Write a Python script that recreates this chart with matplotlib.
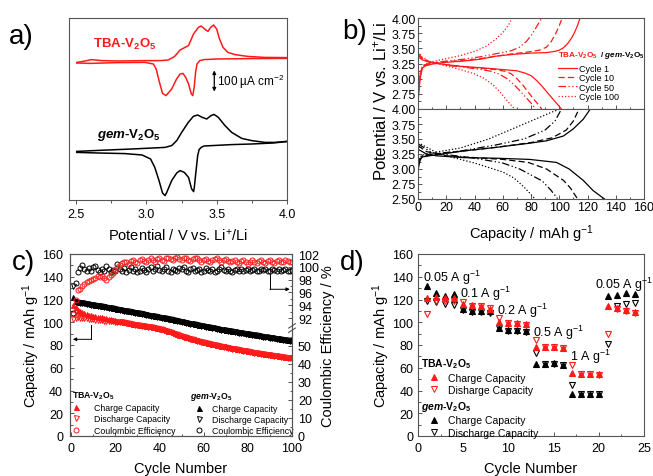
import numpy as np
import matplotlib
matplotlib.use("Agg")
import matplotlib.pyplot as plt
from matplotlib.lines import Line2D
from matplotlib.ticker import MultipleLocator, FixedLocator

plt.rcParams['font.family'] = ['Liberation Sans', 'DejaVu Sans']
plt.rcParams['mathtext.fontset'] = 'custom'
plt.rcParams['mathtext.rm'] = 'Liberation Sans'
plt.rcParams['mathtext.it'] = 'Liberation Sans:italic:bold'
plt.rcParams['mathtext.bf'] = 'Liberation Sans:bold'
plt.rcParams['mathtext.default'] = 'regular'

RED = '#ff1a1a'
SPINE = '#555555'

# ---------------- panel a : CV data (E / V, I / uA cm-2 relative to own baseline)
tba_ox_E = [2.505, 2.55, 2.61, 2.68, 2.80, 3.00, 3.10, 3.155, 3.20, 3.24, 3.275, 3.30, 3.335, 3.37, 3.39,
            3.414, 3.438, 3.457, 3.478, 3.50, 3.52, 3.545, 3.58, 3.63, 3.72, 3.84, 4.0]
tba_ox_I = [-7, -2, 7, 2, 0, 2, 2, 5, 22, 55, 68, 77, 135, 168, 175,
            160, 148, 168, 180, 160, 110, 68, 43, 32, 23, 18, 17]
tba_red_E = [4.0, 3.75, 3.5, 3.41, 3.38, 3.36, 3.35, 3.34, 3.33, 3.32, 3.30, 3.28, 3.26, 3.24, 3.215,
             3.18, 3.14, 3.115, 3.09, 3.07, 3.05, 2.99, 2.8, 2.6, 2.505]
tba_red_I = [13, 12, 10, 7, 2, -15, -57, -132, -173, -165, -115, -82, -62, -65, -90,
             -140, -173, -162, -98, -40, -15, -7, -8, -12, -10]
gem_ox_E = [2.505, 2.658, 2.896, 3.133, 3.180, 3.216, 3.251, 3.298, 3.334, 3.365, 3.398, 3.429, 3.460,
            3.481, 3.512, 3.559, 3.607, 3.678, 3.749, 3.843, 3.914, 3.997]
gem_ox_I = [-12, -7, 0, 8, 17, 42, 83, 133, 163, 170, 158, 150, 167,
            173, 158, 117, 83, 53, 42, 33, 33, 38]
gem_red_E = [3.997, 3.90, 3.749, 3.607, 3.41, 3.39, 3.375, 3.365, 3.352, 3.341, 3.336, 3.322, 3.30, 3.27,
             3.24, 3.216, 3.18, 3.145, 3.133, 3.115, 3.09, 3.06, 3.03, 2.97, 2.85, 2.66, 2.505]
gem_red_I = [37, 30, 25, 22, 15, 8, -3, -33, -117, -192, -213, -200, -142, -117,
             -108, -120, -158, -217, -233, -220, -158, -92, -50, -30, -23, -20, -17]
TBA_OFFSET = 695
GEM_OFFSET = 255

# ---------------- panel b : charge/discharge profiles (capacity mAh/g, V)
cycle_names = ['Cycle 1', 'Cycle 10', 'Cycle 50', 'Cycle 100']
styles = ['-', (0, (5, 2.5)), (0, (6, 2, 1, 2, 1, 2)), (0, (1, 1.6))]

tba_chg_cap = [
    [0, 0.5, 1.5, 3, 5, 10, 20, 32, 44, 55, 67, 79, 91, 97, 100, 103, 106, 109, 111, 113, 114.7],
    [0, 0.5, 1.5, 3, 5, 10, 20, 32, 44, 55, 67, 78, 86, 91, 94, 97, 100, 102],
    [0, 0.5, 1.5, 3, 5, 10, 20, 32, 44, 55, 66, 72, 77, 81, 84, 87.6],
    [0, 0.5, 1.5, 3, 5, 10, 20, 30, 40, 48, 55, 60, 64, 66.5],
]
tba_chg_V = [
    [2.55, 2.75, 3.0, 3.17, 3.21, 3.24, 3.27, 3.29, 3.32, 3.37, 3.40, 3.42, 3.43, 3.45, 3.47, 3.51, 3.58, 3.68, 3.77, 3.88, 4.0],
    [2.6, 2.8, 3.05, 3.18, 3.22, 3.25, 3.28, 3.30, 3.33, 3.37, 3.41, 3.44, 3.47, 3.52, 3.6, 3.72, 3.87, 4.0],
    [2.65, 2.85, 3.08, 3.19, 3.23, 3.26, 3.29, 3.32, 3.36, 3.41, 3.46, 3.52, 3.62, 3.74, 3.86, 4.0],
    [2.7, 2.9, 3.1, 3.2, 3.24, 3.28, 3.33, 3.38, 3.45, 3.53, 3.65, 3.76, 3.88, 4.0],
]
tba_dis_cap = [
    [0, 3, 8, 20, 32, 45, 55, 65, 70, 76, 80, 84, 88, 92, 96, 99, 101.5],
    [0, 3, 8, 20, 32, 45, 55, 62, 66, 70, 74, 78, 82, 85, 87.6],
    [0, 3, 8, 20, 32, 45, 52, 58, 63, 68, 73, 78, 81, 83],
    [0, 3, 8, 20, 30, 40, 47, 53, 58, 63, 66, 68.5],
]
tba_dis_V = [
    [3.36, 3.31, 3.27, 3.23, 3.2, 3.18, 3.16, 3.14, 3.13, 3.09, 3.05, 2.97, 2.87, 2.76, 2.65, 2.57, 2.5],
    [3.40, 3.33, 3.28, 3.23, 3.2, 3.17, 3.15, 3.12, 3.08, 3.0, 2.9, 2.78, 2.66, 2.58, 2.5],
    [3.42, 3.34, 3.28, 3.22, 3.19, 3.15, 3.12, 3.07, 3.0, 2.9, 2.78, 2.65, 2.57, 2.5],
    [3.45, 3.35, 3.29, 3.21, 3.15, 3.08, 3.0, 2.9, 2.78, 2.64, 2.56, 2.5],
]
gem_chg_cap = [
    [0, 0.5, 1.5, 3, 8, 20, 32, 55, 79, 91, 103, 110, 117, 122],
    [0, 0.5, 1.5, 3, 8, 20, 32, 55, 80, 95, 105, 110, 114],
    [0, 0.5, 1.5, 3, 10, 30, 55, 75, 90, 97, 101.6],
    [0, 0.5, 1.5, 3, 10, 30, 50, 70, 85, 95, 100.5],
]
gem_chg_V = [
    [2.95, 3.05, 3.15, 3.2, 3.22, 3.26, 3.3, 3.36, 3.43, 3.47, 3.55, 3.67, 3.83, 4.0],
    [2.97, 3.07, 3.16, 3.21, 3.23, 3.27, 3.3, 3.36, 3.44, 3.52, 3.65, 3.8, 4.0],
    [3.0, 3.1, 3.18, 3.22, 3.25, 3.3, 3.4, 3.5, 3.65, 3.8, 4.0],
    [3.05, 3.12, 3.2, 3.23, 3.27, 3.35, 3.5, 3.7, 3.85, 3.95, 4.0],
]
gem_dis_cap = [
    [0, 6, 13, 32, 55, 79, 98, 107, 117, 124, 132],
    [0, 6, 20, 40, 60, 78, 91, 103, 108, 113],
    [0, 10, 40, 60, 72, 80, 88, 94, 99],
    [0, 15, 40, 60, 68, 75, 79, 82.8],
]
gem_dis_V = [
    [3.33, 3.25, 3.22, 3.19, 3.18, 3.16, 3.11, 3.0, 2.81, 2.64, 2.5],
    [3.39, 3.29, 3.22, 3.19, 3.16, 3.11, 3.0, 2.81, 2.68, 2.5],
    [3.42, 3.27, 3.18, 3.1, 3.0, 2.9, 2.8, 2.65, 2.5],
    [3.44, 3.25, 3.1, 2.95, 2.85, 2.7, 2.6, 2.5],
]

# ---------------- panel c : cycling at constant current
cycle_c = np.arange(1, 101)
gem_chg_c = [122.5, 118.6, 118.2, 117.9, 117.6, 117.4, 116.9, 116.6, 116.3, 115.9,
             115.6, 115.4, 115.0, 114.6, 114.3, 113.9, 113.5, 113.2, 112.8, 112.4,
             112.0, 111.7, 111.4, 111.0, 110.6, 110.3, 109.9, 109.5, 109.2, 108.8,
             108.4, 108.1, 107.7, 107.3, 107.0, 106.6, 106.2, 105.9, 105.5, 105.1,
             104.7, 104.4, 104.0, 103.6, 103.2, 102.8, 102.4, 102.0, 101.6, 101.2,
             100.8, 100.4, 100.0, 99.6, 99.2, 98.8, 98.4, 98.0, 97.6, 97.2,
             96.8, 96.4, 96.1, 95.7, 95.4, 95.0, 94.7, 94.3, 94.0, 93.6,
             93.3, 92.9, 92.6, 92.3, 92.0, 91.6, 91.3, 91.0, 90.7, 90.4,
             90.0, 89.7, 89.4, 89.1, 88.8, 88.4, 88.1, 87.8, 87.5, 87.2,
             86.9, 86.6, 86.3, 86.0, 85.7, 85.4, 85.1, 84.8, 84.5, 84.2]
gem_dis_c = [131.5, 117.8, 117.6, 117.2, 117.0, 116.6, 116.3, 115.9, 115.6, 115.2,
             114.9, 114.7, 114.3, 113.9, 113.6, 113.2, 112.8, 112.5, 112.1, 111.7,
             111.3, 111.0, 110.7, 110.3, 109.9, 109.6, 109.2, 108.8, 108.5, 108.1,
             107.7, 107.4, 107.0, 106.6, 106.3, 105.9, 105.5, 105.2, 104.8, 104.4,
             104.0, 103.7, 103.3, 102.9, 102.5, 102.1, 101.7, 101.3, 100.9, 100.5,
             100.1, 99.7, 99.3, 98.9, 98.5, 98.1, 97.7, 97.3, 96.9, 96.5,
             96.1, 95.7, 95.4, 95.0, 94.7, 94.3, 94.0, 93.6, 93.3, 92.9,
             92.6, 92.2, 91.9, 91.6, 91.3, 90.9, 90.6, 90.3, 90.0, 89.7,
             89.3, 89.0, 88.7, 88.4, 88.1, 87.7, 87.4, 87.1, 86.8, 86.5,
             86.2, 85.9, 85.6, 85.3, 85.0, 84.7, 84.4, 84.1, 83.8, 83.5]
tba_chg_c = [115.0, 113.0, 111.2, 109.8, 108.6, 107.8, 107.2, 106.6, 106.1, 105.7,
             105.3, 104.9, 104.5, 104.2, 103.8, 103.4, 103.0, 102.7, 102.3, 101.9,
             101.5, 101.2, 100.8, 100.4, 100.0, 99.7, 99.3, 98.9, 98.6, 98.3,
             98.0, 97.7, 97.4, 97.1, 96.8, 96.5, 96.1, 95.7, 95.3, 94.9,
             94.4, 93.8, 93.2, 92.6, 92.0, 91.3, 90.6, 89.9, 89.2, 88.5,
             87.8, 87.2, 86.6, 86.0, 85.5, 85.0, 84.5, 84.0, 83.5, 83.0,
             82.5, 82.0, 81.6, 81.1, 80.7, 80.3, 79.9, 79.5, 79.1, 78.7,
             78.3, 77.9, 77.5, 77.2, 76.8, 76.4, 76.1, 75.7, 75.4, 75.0,
             74.7, 74.3, 74.0, 73.7, 73.3, 73.0, 72.7, 72.4, 72.1, 71.8,
             71.5, 71.2, 70.9, 70.6, 70.3, 70.1, 69.8, 69.6, 69.3, 69.1]
tba_dis_c = [103.0, 104.0, 104.2, 104.0, 103.8, 103.5, 103.3, 103.0, 102.8, 102.6,
             102.3, 102.1, 101.9, 101.7, 101.5, 101.3, 101.1, 100.9, 100.7, 100.5,
             100.6, 100.4, 100.1, 99.8, 99.4, 99.1, 98.7, 98.3, 98.0, 97.7,
             97.4, 97.1, 96.8, 96.5, 96.2, 95.9, 95.5, 95.1, 94.7, 94.3,
             93.8, 93.2, 92.6, 92.0, 91.4, 90.7, 90.0, 89.3, 88.6, 87.9,
             87.2, 86.6, 86.0, 85.4, 84.9, 84.4, 83.9, 83.4, 82.9, 82.4,
             81.9, 81.4, 81.0, 80.5, 80.1, 79.7, 79.3, 78.9, 78.5, 78.1,
             77.7, 77.3, 76.9, 76.6, 76.2, 75.8, 75.5, 75.1, 74.8, 74.4,
             74.1, 73.7, 73.4, 73.1, 72.7, 72.4, 72.1, 71.8, 71.5, 71.2,
             70.9, 70.6, 70.3, 70.0, 69.7, 69.5, 69.2, 69.0, 68.7, 68.5]
tba_ce_c = [92.6, 94.8, 96.4, 96.5, 97.0, 97.3, 97.6, 97.8, 97.9, 98.1,
            98.2, 98.5, 98.4, 98.6, 98.3, 98.0, 98.4, 98.7, 99.1, 99.5,
            99.9, 100.3, 100.6, 100.8, 100.7, 100.5, 100.9, 101.1, 100.8, 100.6,
            101.0, 101.2, 100.9, 100.7, 101.1, 101.3, 101.0, 100.8, 101.2, 101.4,
            101.1, 100.9, 101.3, 101.4, 101.2, 101.0, 101.3, 101.5, 101.2, 101.0,
            101.3, 101.4, 101.1, 100.9, 101.2, 101.4, 101.3, 101.0, 100.8, 101.1,
            101.2, 100.9, 100.7, 101.0, 101.2, 101.3, 101.0, 100.8, 101.1, 101.2,
            100.9, 100.7, 100.9, 101.1, 100.8, 100.6, 100.9, 101.0, 100.7, 100.5,
            100.8, 101.0, 100.8, 100.6, 100.9, 101.0, 100.7, 100.6, 100.9, 101.0,
            100.8, 100.6, 100.9, 101.0, 100.8, 100.7, 101.0, 100.9, 100.7, 100.8]
gem_ce_c = [92.8, 97.5, 99.2, 99.8, 100.3, 99.6, 99.3, 99.8, 99.4, 99.9,
            100.2, 99.5, 99.2, 99.7, 99.4, 100.1, 99.6, 99.2, 99.5, 99.3,
            100.4, 99.6, 99.3, 99.8, 99.2, 99.5, 100.0, 99.4, 99.7, 99.2,
            99.3, 99.8, 99.5, 99.2, 99.6, 99.9, 99.4, 99.7, 100.1, 99.5,
            99.3, 99.6, 99.9, 99.4, 99.2, 99.7, 99.5, 99.3, 99.8, 99.6,
            99.9, 99.4, 99.2, 99.6, 99.8, 99.3, 99.5, 99.7, 99.2, 99.4,
            99.8, 99.5, 99.3, 99.6, 99.2, 99.4, 99.7, 99.9, 99.5, 99.3,
            99.6, 99.4, 99.2, 99.5, 99.7, 99.3, 99.6, 99.4, 99.5, 99.7,
            99.3, 99.5, 99.6, 99.4, 99.3, 99.6, 99.5, 99.7, 99.4, 99.3,
            99.6, 99.5, 99.4, 99.6, 99.3, 99.5, 99.7, 99.4, 99.3, 99.5]

# ---------------- panel d : rate capability
cycle_d = np.arange(1, 25)
tba_chg_d = [121.3, 121.9, 121.0, 121.0, 116.0, 115.0, 114.0, 111.6, 100.5, 99.0, 99.0, 98.5,
             78.5, 78.0, 78.0, 77.7, 55.4, 54.5, 54.2, 54.2, 114.6, 112.5, 110.5, 108.7]
tba_dis_d = [107.3, 119.0, 119.0, 119.0, 118.0, 114.6, 114.0, 112.2, 103.7, 99.0, 98.2, 97.9,
             84.7, 78.0, 78.0, 77.7, 62.0, 54.5, 54.2, 54.0, 90.0, 111.6, 110.2, 108.4]
gem_chg_d = [132.0, 125.4, 123.4, 124.8, 111.6, 110.2, 110.2, 109.5, 94.6, 93.0, 93.0, 92.5,
             63.3, 63.3, 64.0, 62.7, 37.2, 37.2, 37.2, 37.2, 122.8, 124.0, 125.4, 124.5]
gem_dis_d = [118.4, 118.0, 116.0, 115.0, 110.8, 108.7, 108.7, 108.5, 95.0, 92.6, 92.0, 91.7,
             72.7, 63.0, 63.0, 62.0, 44.8, 37.2, 37.2, 37.2, 80.9, 114.0, 116.0, 117.0]
rate_labels = ['0.05 A g$^{-1}$', '0.1 A g$^{-1}$', '0.2 A g$^{-1}$', '0.5 A g$^{-1}$', '1 A g$^{-1}$', '0.05 A g$^{-1}$']
rate_label_xy = [(0.55, 140), (4.7, 126), (8.7, 110.7), (12.7, 91.6), (16.8, 70.5), (19.6, 133.6)]

TBA_LBL = 'TBA-V$_2$O$_5$'
GEM_LBL = '$\\mathit{gem}$-V$_2$O$_5$'

W, H = 653, 477
fig = plt.figure(figsize=(W / 100, H / 100), dpi=100)

def rect(l, t, r, b):
    return [l / W, (H - b) / H, (r - l) / W, (b - t) / H]

def style_ax(ax, direction='in'):
    for s in ax.spines.values():
        s.set_color(SPINE)
        s.set_linewidth(0.8)
    ax.tick_params(which='both', direction=direction, colors=SPINE, labelcolor='black', labelsize=9, width=0.7)
    ax.tick_params(which='major', length=3)
    ax.tick_params(which='minor', length=1.8)

# ====== a
axa = fig.add_axes(rect(69, 19, 287, 201))
style_ax(axa, 'out')
axa.plot(tba_ox_E, np.array(tba_ox_I) + TBA_OFFSET, color=RED, lw=1.1)
axa.plot(tba_red_E, np.array(tba_red_I) + TBA_OFFSET, color=RED, lw=1.1)
axa.plot(gem_ox_E, np.array(gem_ox_I) + GEM_OFFSET, color='black', lw=1.1)
axa.plot(gem_red_E, np.array(gem_red_I) + GEM_OFFSET, color='black', lw=1.1)
axa.set_xlim(2.45, 4.0)
axa.set_ylim(0, 910)
axa.set_yticks([])
axa.tick_params(axis='x', pad=2.5)
axa.xaxis.set_major_locator(MultipleLocator(0.5))
axa.xaxis.set_minor_locator(MultipleLocator(0.25))
axa.xaxis.set_major_formatter(matplotlib.ticker.FormatStrFormatter('%.1f'))
axa.set_xlabel('Potential / V vs. Li$^{+}$/Li', fontsize=10.5, labelpad=5)
axa.text(2.62, 785, TBA_LBL, color=RED, fontsize=9.5, fontweight='bold', va='center')
axa.text(2.65, 330, GEM_LBL, color='black', fontsize=9.5, fontweight='bold', va='center')
axa.annotate('', xy=(3.483, 542), xytext=(3.483, 648),
             arrowprops=dict(arrowstyle='<|-|>', lw=0.9, color='black', mutation_scale=5, shrinkA=0, shrinkB=0))
axa.text(3.50, 597, '100 \u00b5A cm$^{-2}$', fontsize=8.5, va='center')
fig.text(9 / W, 1 - 37 / H, 'a)', fontsize=20, va='center')

# ====== b
axb1 = fig.add_axes(rect(418, 19, 644, 110))
axb2 = fig.add_axes(rect(418, 110, 644, 200))
for ax in (axb1, axb2):
    style_ax(ax)
    ax.tick_params(axis='y', pad=1.5)
    ax.tick_params(axis='x', pad=1.8)
    ax.set_xlim(0, 160)
    ax.set_ylim(2.5, 4.0)
    ax.xaxis.set_major_locator(MultipleLocator(20))
    ax.xaxis.set_minor_locator(MultipleLocator(10))
    ax.yaxis.set_major_locator(MultipleLocator(0.25))
    ax.yaxis.set_minor_locator(MultipleLocator(0.125))
    ax.yaxis.set_major_formatter(matplotlib.ticker.FormatStrFormatter('%.2f'))
axb1.set_yticks([2.75, 3.0, 3.25, 3.5, 3.75, 4.0])
axb1.tick_params(labelbottom=False)
for i in range(4):
    axb1.plot(tba_chg_cap[i], tba_chg_V[i], color=RED, ls=styles[i], lw=0.9)
    axb1.plot(tba_dis_cap[i], tba_dis_V[i], color=RED, ls=styles[i], lw=0.9)
    axb2.plot(gem_chg_cap[i], gem_chg_V[i], color='black', ls=styles[i], lw=0.9)
    axb2.plot(gem_dis_cap[i], gem_dis_V[i], color='black', ls=styles[i], lw=0.9)
handles = [Line2D([], [], color=RED, ls=styles[i], lw=0.9) for i in range(4)]
axb1.legend(handles, cycle_names, loc='center left', bbox_to_anchor=(0.619, 0.293), frameon=False,
            fontsize=6.5, handlelength=2.1, handletextpad=0.2, labelspacing=0.05, borderpad=0, borderaxespad=0)
t1 = axb1.text(0.62, 0.597, TBA_LBL, transform=axb1.transAxes, color=RED, fontsize=5.9,
               fontweight='bold', va='center')
axb1.annotate(' / ' + GEM_LBL, xy=(1, 0), xycoords=t1, color='black', fontsize=5.9,
              fontweight='bold', va='bottom')
axb2.set_xlabel('Capacity / mAh g$^{-1}$', fontsize=10.5, labelpad=6.5)
fig.text(380 / W, 1 - 102 / H, 'Potential / V vs. Li$^{+}$/Li', rotation=90, fontsize=12,
         va='center', ha='center')
fig.text(342 / W, 1 - 32 / H, 'b)', fontsize=20, va='center')

# ====== c
axc = fig.add_axes(rect(70, 255, 292, 437))
style_ax(axc)
axc.tick_params(axis='x', pad=4.5)
axc.tick_params(axis='y', pad=5)
axc.set_xlim(-0.5, 100)
axc.set_ylim(0, 160)
axc.xaxis.set_major_locator(MultipleLocator(20))
axc.xaxis.set_minor_locator(MultipleLocator(10))
axc.yaxis.set_major_locator(MultipleLocator(20))
axc.yaxis.set_minor_locator(MultipleLocator(10))
axc.set_xlabel('Cycle Number', fontsize=10.5, labelpad=5)
axc.set_ylabel('Capacity / mAh g$^{-1}$', fontsize=10.5, labelpad=0)

axc2 = axc.twinx()
brk_v = [-1000, 60, 90.55, 1000]
brk_f = [-1000, 60, 60.21, 65.37 + (1000 - 92) * 3.556]
fwd = lambda v: np.interp(v, brk_v, brk_f)
inv = lambda f: np.interp(f, brk_f, brk_v)
axc2.set_yscale('function', functions=(fwd, inv))
axc2.set_ylim(0, 102)
axc2.yaxis.set_major_locator(FixedLocator([0, 10, 20, 30, 40, 50, 92, 94, 96, 98, 100, 102]))
axc2.yaxis.set_minor_locator(FixedLocator([5, 15, 25, 35, 45, 55, 93, 95, 97, 99, 101]))
axc2.yaxis.set_major_formatter(matplotlib.ticker.FormatStrFormatter('%d'))
style_ax(axc2)
axc2.tick_params(axis='y', pad=4.3)
axc2.set_ylabel('Coulombic Efficiency / %', fontsize=10.5, labelpad=1.5)

ms = 3.6
axc.plot(cycle_c, gem_dis_c, ls='none', marker='v', ms=ms, mfc='none', mec='black', mew=0.7)
axc.plot(cycle_c, gem_chg_c, ls='none', marker='^', ms=ms, mfc='black', mec='black', mew=0.7)
axc.plot(cycle_c, tba_dis_c, ls='none', marker='v', ms=ms, mfc='none', mec=RED, mew=0.7)
axc.plot(cycle_c, tba_chg_c, ls='none', marker='^', ms=ms, mfc=RED, mec=RED, mew=0.7)
axc2.plot(cycle_c, gem_ce_c, ls='none', marker='o', ms=ms, mfc='none', mec='black', mew=0.7)
axc2.plot(cycle_c, tba_ce_c, ls='none', marker='o', ms=ms, mfc='none', mec=RED, mew=0.7)

# break mark on right axis
for dy in (-0.012, 0.012):
    axc2.plot([0.985, 1.015], [0.593 + dy - 0.012, 0.593 + dy + 0.012], transform=axc2.transAxes,
              color=SPINE, lw=0.8, clip_on=False)
# arrows
axc.plot([9, 9], [98, 85], color='black', lw=0.7)
axc.annotate('', xy=(0.8, 85), xytext=(9, 85),
             arrowprops=dict(arrowstyle='-|>', lw=0.7, color='black', mutation_scale=5, shrinkA=0, shrinkB=0))
axc.plot([90, 90], [142, 129], color='black', lw=0.7)
axc.annotate('', xy=(99, 129), xytext=(90, 129),
             arrowprops=dict(arrowstyle='-|>', lw=0.7, color='black', mutation_scale=5, shrinkA=0, shrinkB=0))

def mk(marker, color, filled, ms):
    return Line2D([], [], ls='none', marker=marker, ms=ms, mfc=color if filled else 'none', mec=color, mew=0.7)

lc1 = axc.legend([mk('^', RED, True, 3.6), mk('v', RED, False, 3.6), mk('o', RED, False, 3.6)],
                 ['Charge Capacity', 'Discharge Capacity', 'Coulombic Efficiency'],
                 title=TBA_LBL, title_fontproperties={'size': 6.3, 'weight': 'bold'}, alignment='left',
                 loc='upper left', bbox_to_anchor=(0.008, 0.255), frameon=False, fontsize=6.3,
                 handlelength=0.9, handletextpad=1.6, labelspacing=0.25, borderpad=0, borderaxespad=0)
axc.add_artist(lc1)
axc.legend([mk('^', 'black', True, 3.6), mk('v', 'black', False, 3.6), mk('o', 'black', False, 3.6)],
           ['Charge Capacity', 'Discharge Capacity', 'Coulombic Efficiency'],
           title=GEM_LBL, title_fontproperties={'size': 6.3, 'weight': 'bold'}, alignment='left',
           loc='upper left', bbox_to_anchor=(0.54, 0.255), frameon=False, fontsize=6.3,
           handlelength=2.1, handletextpad=0.4, labelspacing=0.25, borderpad=0, borderaxespad=0)
fig.text(12 / W, 1 - 263 / H, 'c)', fontsize=20, va='center')

# ====== d
axd = fig.add_axes(rect(418, 255, 644, 437))
style_ax(axd)
axd.tick_params(axis='x', pad=4.5)
axd.tick_params(axis='y', pad=3.4)
axd.set_xlim(0, 25)
axd.set_ylim(0, 160)
axd.xaxis.set_major_locator(MultipleLocator(5))
axd.xaxis.set_minor_locator(MultipleLocator(2.5))
axd.yaxis.set_major_locator(MultipleLocator(20))
axd.yaxis.set_minor_locator(MultipleLocator(10))
ms = 5
axd.plot(cycle_d, gem_chg_d, ls='none', marker='^', ms=ms, mfc='black', mec='black', mew=0.8)
axd.plot(cycle_d, gem_dis_d, ls='none', marker='v', ms=ms, mfc='none', mec='black', mew=0.8)
axd.plot(cycle_d, tba_chg_d, ls='none', marker='^', ms=ms, mfc=RED, mec=RED, mew=0.8)
axd.plot(cycle_d, tba_dis_d, ls='none', marker='v', ms=ms, mfc='none', mec=RED, mew=0.8)
for lbl, (x, y) in zip(rate_labels, rate_label_xy):
    axd.text(x, y, lbl, fontsize=9, va='center')
axd.set_xlabel('Cycle Number', fontsize=10.5, labelpad=5)
axd.set_ylabel('Capacity / mAh g$^{-1}$', fontsize=10.5, labelpad=0)
ld1 = axd.legend([mk('^', RED, True, 4.5), mk('v', RED, False, 4.5)],
                 ['Charge Capacity', 'Disharge Capacity'],
                 title=TBA_LBL, title_fontproperties={'size': 7.5, 'weight': 'bold'}, alignment='left',
                 loc='upper left', bbox_to_anchor=(0.015, 0.439), frameon=False, fontsize=7.5,
                 handlelength=2.4, handletextpad=0.2, labelspacing=0.25, borderpad=0, borderaxespad=0)
axd.add_artist(ld1)
axd.legend([mk('^', 'black', True, 4.5), mk('v', 'black', False, 4.5)],
           ['Charge Capacity', 'Discharge Capacity'],
           title=GEM_LBL, title_fontproperties={'size': 7.5, 'weight': 'bold'}, alignment='left',
           loc='upper left', bbox_to_anchor=(0.015, 0.205), frameon=False, fontsize=7.5,
           handlelength=2.4, handletextpad=0.2, labelspacing=0.25, borderpad=0, borderaxespad=0)
fig.text(340 / W, 1 - 263 / H, 'd)', fontsize=20, va='center')

fig.savefig('out.png', dpi=100)
